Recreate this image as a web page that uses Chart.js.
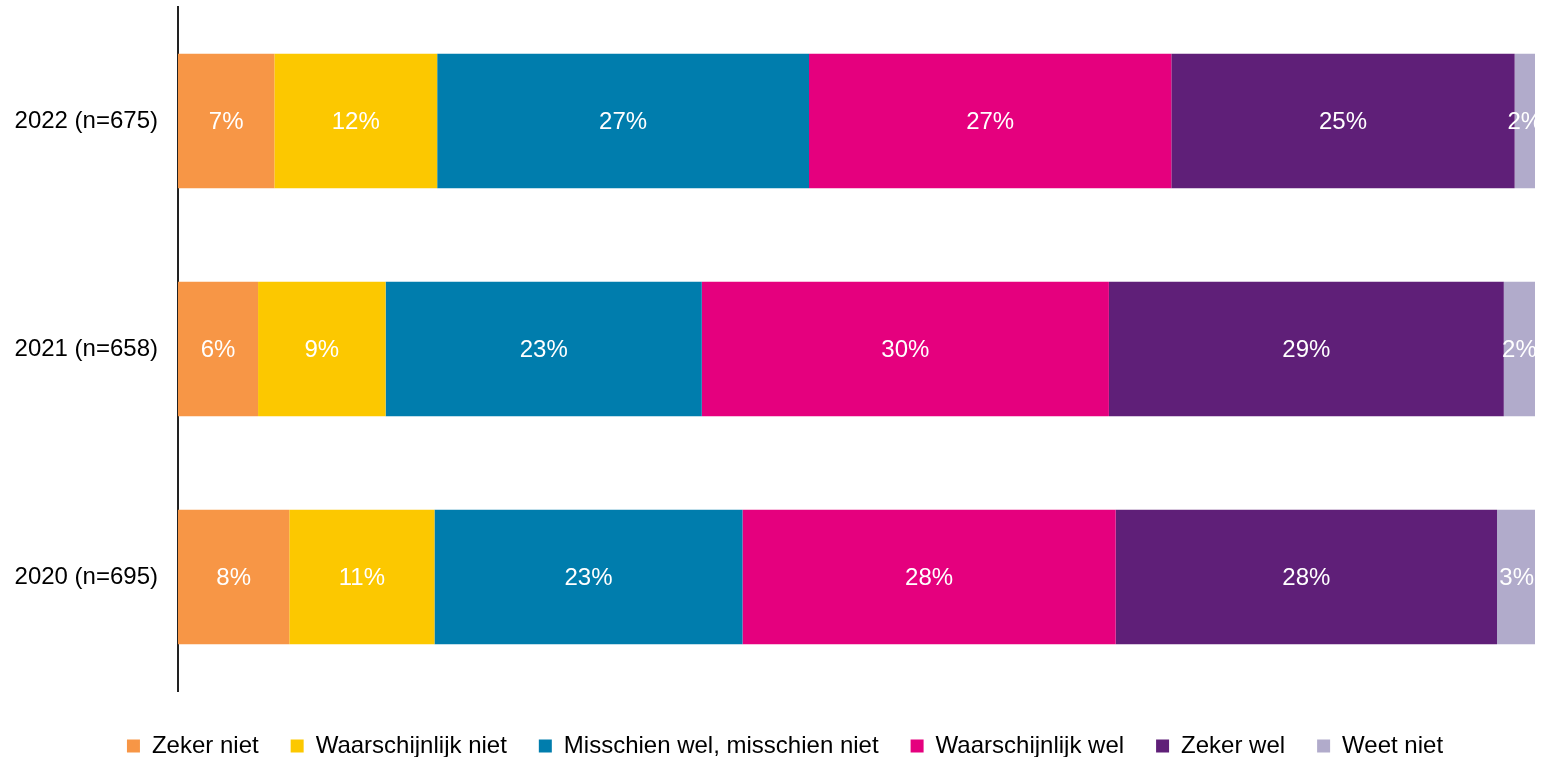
<!DOCTYPE html>
<html>
<head>
<meta charset="utf-8">
<script src="https://cdn.jsdelivr.net/npm/chart.js@4/dist/chart.umd.min.js"></script>
<style>
  body { margin: 0; background: #fff; }
  #wrap { width: 1542px; height: 757px; position: relative; }
</style>
</head>
<body>
<div id="wrap"><canvas id="chart"></canvas></div>
<script>
// Categories (top to bottom)
const years = ['2022 (n=675)', '2021 (n=658)', '2020 (n=695)']

// Answer shares in percent
const zekerNiet          = [7.1, 5.9, 8.2]
const waarschijnlijkNiet = [12.0, 9.4, 10.7]
const misschien          = [27.4, 23.3, 22.7]
const waarschijnlijkWel  = [26.7, 30.0, 27.5]
const zekerWel           = [25.3, 29.1, 28.1]
const weetNiet           = [1.5, 2.3, 2.9]

const seriesNames = ['Zeker niet', 'Waarschijnlijk niet', 'Misschien wel, misschien niet', 'Waarschijnlijk wel', 'Zeker wel', 'Weet niet']
const seriesColors = ['#F79646', '#FCC800', '#007DAD', '#E5007E', '#5F1F78', '#B1ABCB']
const seriesData = [zekerNiet, waarschijnlijkNiet, misschien, waarschijnlijkWel, zekerWel, weetNiet]

const FONT = '"Liberation Sans", Arial, sans-serif'

// White percentage labels in the middle of each segment, clipped to the plot
const segmentLabels = {
  id: 'segmentLabels',
  afterLayout(chart) {
    // nudge the legend a bit lower and to the right, like the original
    const lg = chart.legend
    lg.top += 11
    lg.bottom += 11
    lg.left += 10
    lg.right += 10
  },
  afterDatasetsDraw(chart) {
    const { ctx, chartArea } = chart
    ctx.save()
    ctx.beginPath()
    ctx.rect(chartArea.left, chartArea.top, chartArea.right - chartArea.left, chartArea.bottom - chartArea.top)
    ctx.clip()
    ctx.fillStyle = '#fff'
    ctx.font = '24px ' + FONT
    ctx.textAlign = 'center'
    ctx.textBaseline = 'middle'
    chart.data.datasets.forEach((ds, i) => {
      chart.getDatasetMeta(i).data.forEach((bar, j) => {
        const cx = (bar.x + bar.base) / 2
        ctx.fillText(Math.round(ds.data[j]) + '%', cx, bar.y + 1)
      })
    })
    ctx.restore()
  }
}

new Chart(document.getElementById('chart'), {
  type: 'bar',
  data: {
    labels: years,
    datasets: seriesNames.map((name, i) => ({
      label: name,
      data: seriesData[i],
      backgroundColor: seriesColors[i],
      borderWidth: 0,
      barPercentage: 0.59,
      categoryPercentage: 1
    }))
  },
  options: {
    indexAxis: 'y',
    responsive: true,
    maintainAspectRatio: false,
    animation: false,
    layout: { padding: { left: 15, right: 7, top: 7, bottom: 0 } },
    scales: {
      x: {
        stacked: true,
        min: 0,
        max: 100,
        display: false
      },
      y: {
        stacked: true,
        grid: { display: false, drawTicks: false },
        border: { display: true, color: '#222', width: 2 },
        ticks: {
          color: '#000',
          padding: 20,
          font: { family: FONT, size: 24 }
        },
        afterFit(scale) {
          scale.width = 163
          scale.paddingTop = 0
          scale.paddingBottom = 0
        }
      }
    },
    plugins: {
      legend: {
        position: 'bottom',
        labels: {
          color: '#000',
          boxWidth: 13,
          boxHeight: 13,
          padding: 32,
          font: { family: FONT, size: 24 }
        }
      },
      tooltip: { enabled: false }
    }
  },
  plugins: [segmentLabels]
})
</script>
</body>
</html>
